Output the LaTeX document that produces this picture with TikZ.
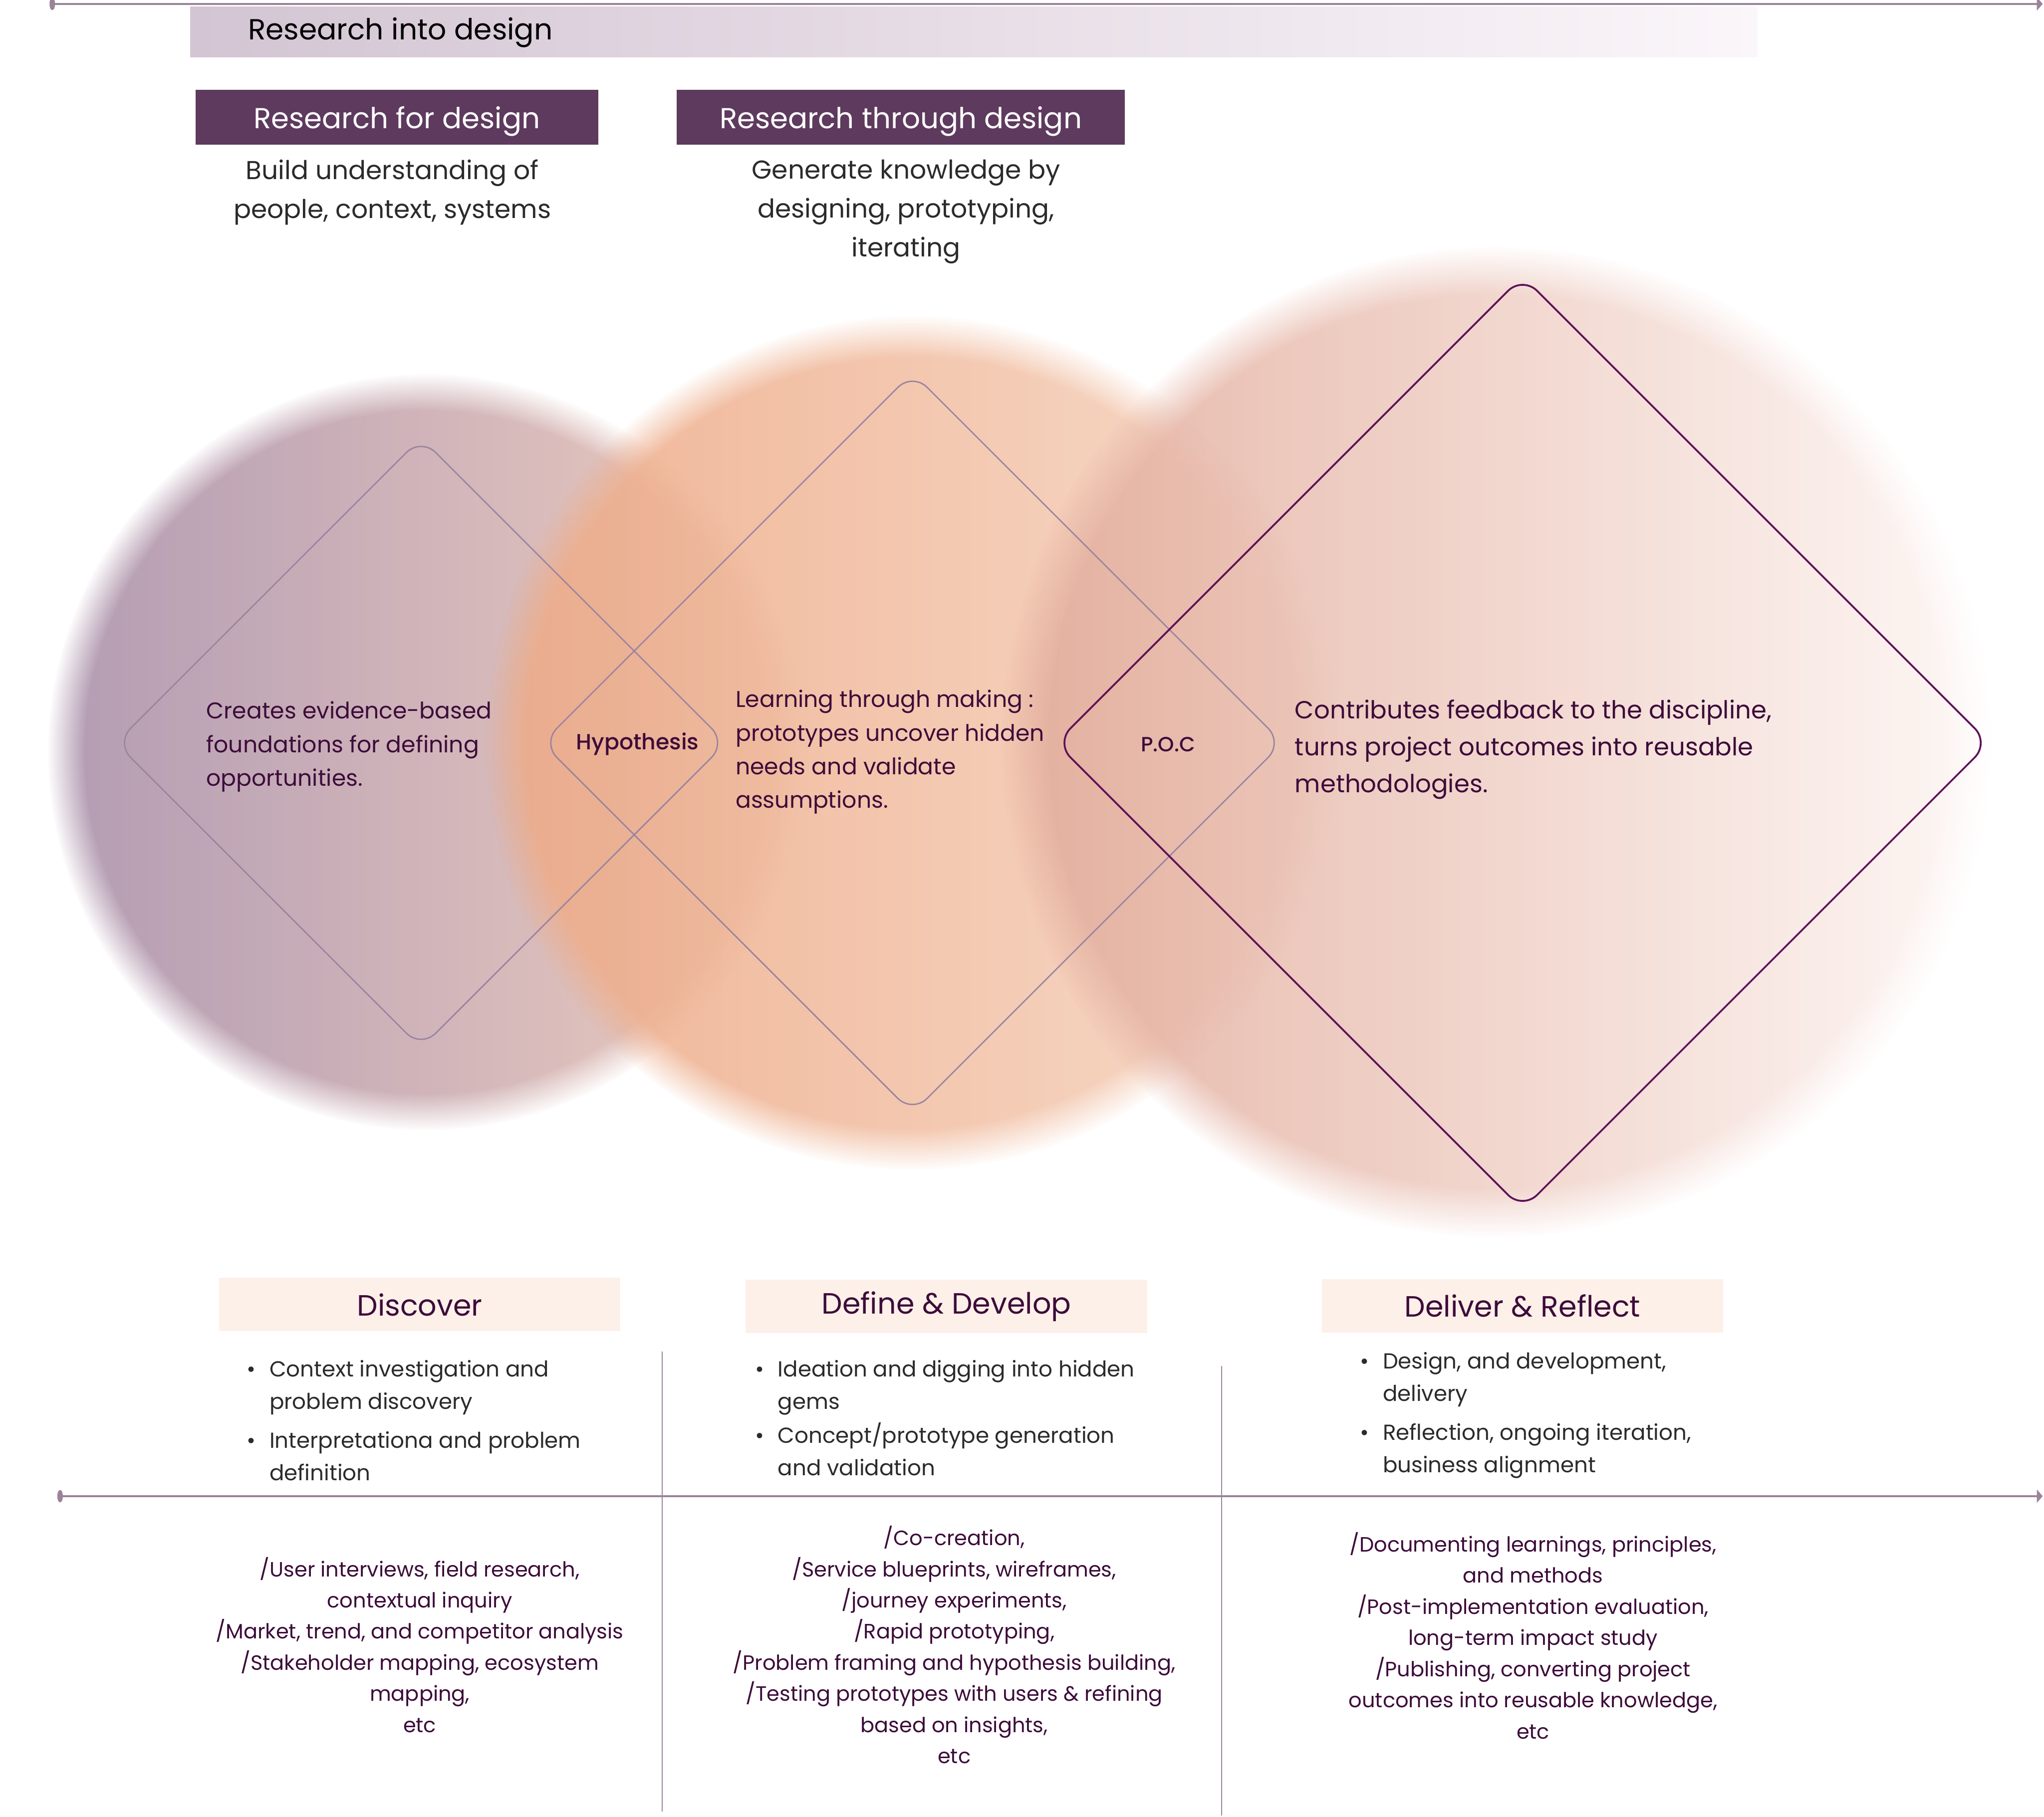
\documentclass[tikz,border=0pt]{standalone}
\usepackage{fontspec}
\setmainfont{Poppins}
\newfontfamily\poppinsmed{Poppins Medium}
\usetikzlibrary{arrows.meta, fadings, positioning, calc}

\definecolor{axisc}{HTML}{9B8399}
\definecolor{bandl}{HTML}{D3C5D3}
\definecolor{bandr}{HTML}{FBF6FA}
\definecolor{plumbox}{HTML}{5E3A5E}
\definecolor{phasefill}{HTML}{FDF0E9}
\definecolor{plumtext}{HTML}{3D0C3A}
\definecolor{graytext}{HTML}{2B2B2B}
\definecolor{diaedge}{HTML}{9A84A0}
\definecolor{diadark}{HTML}{5E1259}
\definecolor{cial}{HTML}{A88EA9}
\definecolor{ciar}{HTML}{EBC6B6}
\definecolor{cibl}{HTML}{EDA985}
\definecolor{cibm}{HTML}{F3C8AF}
\definecolor{cibr}{HTML}{F6D6C3}
\definecolor{cicl}{HTML}{E2AB9A}
\definecolor{cicm}{HTML}{F2DAD4}
\definecolor{cicr}{HTML}{FDF6F4}

\tikzstyle{axis}=[draw=axisc, line width=1pt, arrows={Ellipse[length=2.4pt,width=5.3pt]-Triangle[length=2.6pt,width=5.8pt]}]
\tikzstyle{sep}=[draw=axisc, line width=0.5pt]
\tikzstyle{titlebox}=[fill=plumbox, text=white, minimum height=0.84cm, inner sep=0pt, text depth=0pt, font=\fontsize{12.6}{16}\selectfont]
\tikzstyle{subtext}=[text=graytext, align=center, inner sep=0pt, font=\fontsize{11.3}{17}\selectfont]
\tikzstyle{dia}=[draw=diaedge, line width=0.6pt, rounded corners=9pt]
\tikzstyle{diatext}=[text=plumtext, align=left, inner sep=0pt, anchor=west, font=\fontsize{9.95}{14.7}\selectfont]
\tikzstyle{meet}=[text=plumtext, inner sep=0pt, font=\poppinsmed\fontsize{9.6}{12}\selectfont]
\tikzstyle{phasebox}=[fill=phasefill, text=plumtext, minimum width=6.16cm, minimum height=0.82cm, inner sep=0pt, font=\fontsize{12.8}{15}\selectfont]
\tikzstyle{bullets}=[text=graytext, align=left, inner sep=0pt, anchor=west, font=\fontsize{9.5}{14.2}\selectfont]
\tikzstyle{methods}=[text=plumtext, align=center, inner sep=0pt, font=\fontsize{9.05}{13.6}\selectfont]
\tikzstyle{blob}=[opacity=0.88, path fading=circle with fuzzy edge 10 percent]

\newcommand{\bind}{\phantom{\textbullet}\hspace{6pt}}

\begin{document}
\begin{tikzpicture}[x=0.02cm, y=-0.02cm]
    \useasboundingbox (0,0) rectangle (1568,1394);
    % soft circles
    \coordinate (c1) at (327,577);
    \coordinate (c2) at (700,570);
    \coordinate (c3) at (1148,569);
    \shade[blob, left color=cial, right color=ciar] (c1) circle[radius=5.8cm];
    \shade[blob, left color=cibl, middle color=cibm, right color=cibr] (c2) circle[radius=6.55cm];
    \shade[blob, left color=cicl, middle color=cicm, right color=cicr] (c3) circle[radius=7.6cm];
    % diamonds
    \coordinate (d1) at (323,570);
    \coordinate (d2) at (700,570);
    \coordinate (d3) at (1168,570);
    \draw[dia] (d1) ++(-117,-117) -- ++(117,-117) -- ++(234,234) -- ++(-234,234) -- ++(-234,-234) -- cycle;
    \draw[dia] (d2) ++(-142,-142) -- ++(142,-142) -- ++(284,284) -- ++(-284,284) -- ++(-284,-284) -- cycle;
    \draw[dia, draw=diadark, line width=0.8pt] (d3) ++(-179,-179) -- ++(179,-179) -- ++(358,358) -- ++(-358,358) -- ++(-358,-358) -- cycle;
    % header
    \shade[left color=bandl, right color=bandr] (146,5) rectangle (1348,44);
    \node[anchor=west, inner sep=0pt, font=\fontsize{12.7}{16}\selectfont] (rid) at (190,25) {Research into design};
    \node[titlebox, minimum width=6.18cm] (rfd) at (304.5,90) {Research for design};
    \node[titlebox, minimum width=6.88cm] (rtd) at (691,90) {Research through design};
    \node[subtext] (rfdtext) at (301,147.5) {Build understanding of\\people, context, systems};
    \node[subtext] (rtdtext) at (695,162.5) {Generate knowledge by\\designing, prototyping,\\iterating};
    % diamond texts
    \node[diatext] (discovertext) at (158,573) {Creates evidence-based\\foundations for defining\\opportunities.};
    \node[meet] (hyp) at (489,571) {Hypothesis};
    \node[diatext] (developtext) at (564,577) {Learning through making :\\prototypes uncover hidden\\needs and validate\\assumptions.};
    \node[meet, font=\poppinsmed\fontsize{9}{11}\selectfont] (poc) at (896,571) {P.O.C};
    \node[diatext, font=\fontsize{10.84}{16.2}\selectfont] (delivertext) at (993,575) {Contributes feedback to the discipline,\\turns project outcomes into reusable\\methodologies.};
    % axes
    \coordinate (topstart) at (38,3);
    \coordinate (topend) at (1567,3);
    \draw[axis] (topstart) -- (topend);
    \coordinate (midstart) at (44,1148);
    \coordinate (midend) at (1567,1148);
    \draw[axis] (midstart) -- (midend);
    \coordinate (sepatop) at (508,1037);
    \coordinate (sepabot) at (508,1390);
    \coordinate (sepbtop) at (937,1048);
    \coordinate (sepbbot) at (937,1393);
    \draw[sep] (sepatop) -- (sepabot);
    \draw[sep] (sepbtop) -- (sepbbot);
    % phases
    \node[phasebox] (discover) at (322,1001) {Discover};
    \node[phasebox] (develop) at (726,1002.5) {Define \& Develop};
    \node[phasebox] (deliver) at (1168,1002) {Deliver \& Reflect};
    \node[bullets] (discoverlist) at (189,1090) {\textbullet\hspace{6pt}Context investigation and\\\bind problem discovery\\[2.8pt]\textbullet\hspace{6pt}Interpretationa and problem\\\bind definition};
    \node[bullets] (developlist) at (579,1088) {\textbullet\hspace{6pt}Ideation and digging into hidden\\\bind gems\\[0.6pt]\textbullet\hspace{6pt}Concept/prototype generation\\\bind and validation};
    \node[bullets] (deliverlist) at (1043,1086) {\textbullet\hspace{6pt}Design, and development,\\\bind delivery\\[2.8pt]\textbullet\hspace{6pt}Reflection, ongoing iteration,\\\bind business alignment};
    % methods
    \node[methods] (discovermethods) at (322,1262) {/User interviews, field research,\\contextual inquiry\\/Market, trend, and competitor analysis\\/Stakeholder mapping, ecosystem\\mapping,\\etc};
    \node[methods] (developmethods) at (732,1262) {/Co-creation,\\/Service blueprints, wireframes,\\/journey experiments,\\/Rapid prototyping,\\/Problem framing and hypothesis building,\\/Testing prototypes with users \& refining\\based on insights,\\etc};
    \node[methods] (delivermethods) at (1176,1255) {/Documenting learnings, principles,\\and methods\\/Post-implementation evaluation,\\long-term impact study\\/Publishing, converting project\\outcomes into reusable knowledge,\\etc};
\end{tikzpicture}
\end{document}
